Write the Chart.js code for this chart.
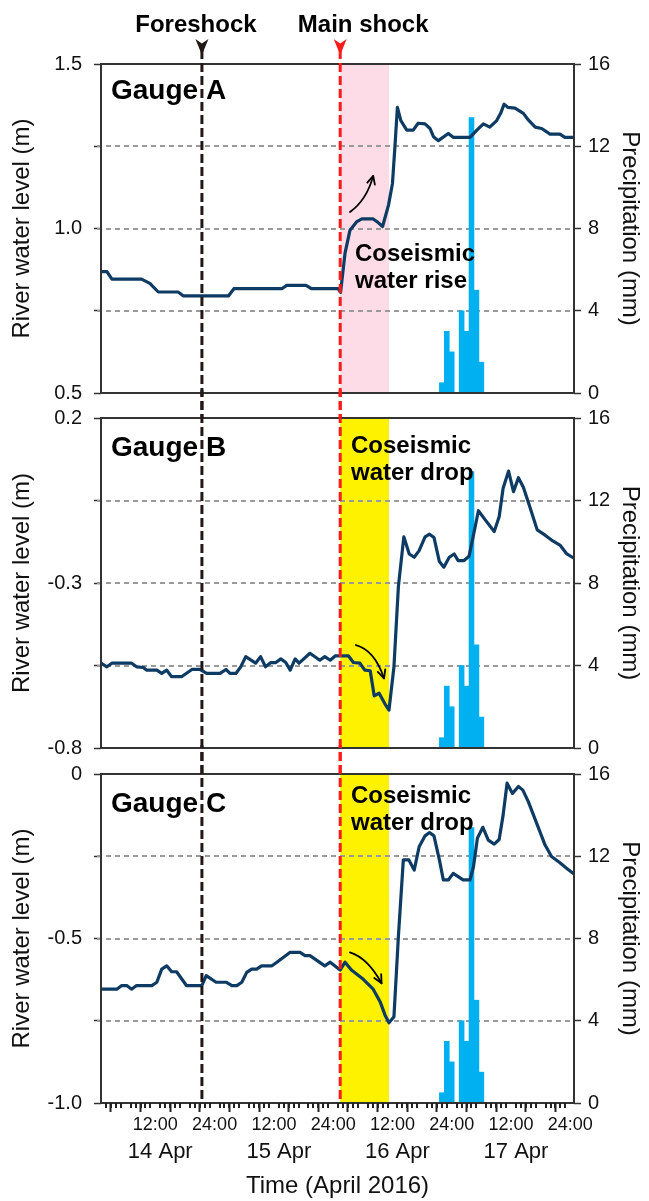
<!DOCTYPE html>
<html><head><meta charset="utf-8">
<script src="https://cdn.jsdelivr.net/npm/chart.js@4.4.1/dist/chart.umd.min.js"></script>
<style>
html,body{margin:0;padding:0;background:#fff;}
body{width:649px;height:1201px;position:relative;overflow:hidden;}
canvas{position:absolute;left:0;}
</style></head><body>
<canvas id="cA" width="649" height="419" style="top:0px"></canvas>
<canvas id="cB" width="649" height="384" style="top:390px"></canvas>
<canvas id="cC" width="649" height="456" style="top:745px"></canvas>
<script>
// ---- data (hours counted from 14 Apr 2016 00:00) ----
const hoursA = [1, 2.2, 3.2, 9.2, 10.9, 12.6, 16.6, 17.7, 26.8, 27.9, 37.6, 38.6, 42.5, 43.6, 49.0, 49.5, 50.4, 51.4, 52.8, 53.8, 56.1, 57.1, 58.0, 59.2, 60.0, 60.5, 61.0, 61.7, 62.9, 64.2, 65.2, 66.6, 67.6, 68.3, 69.3, 71.3, 72.3, 75.7, 77.1, 78.4, 79.7, 81.1, 81.9, 82.6, 83.4, 84.8, 86.5, 87.5, 88.9, 90.2, 91.9, 93.9, 94.9, 96.75];
const levelA = [0.869, 0.869, 0.846, 0.846, 0.833, 0.807, 0.807, 0.795, 0.795, 0.817, 0.817, 0.827, 0.827, 0.817, 0.817, 0.806, 0.925, 0.995, 1.021, 1.029, 1.029, 1.018, 1.006, 1.071, 1.137, 1.249, 1.368, 1.328, 1.299, 1.299, 1.320, 1.318, 1.304, 1.279, 1.267, 1.289, 1.277, 1.277, 1.299, 1.318, 1.308, 1.328, 1.350, 1.378, 1.368, 1.366, 1.350, 1.330, 1.308, 1.304, 1.287, 1.287, 1.277, 1.277];

const hoursB = [1, 2.2, 3.2, 7.2, 8.2, 9.6, 10.2, 12.3, 13.3, 14.3, 15.3, 17.3, 19.4, 21.0, 22.4, 25.1, 26.3, 27.1, 28.3, 29.3, 30.3, 32.3, 33.3, 34.3, 35.4, 36.4, 37.4, 38.4, 39.3, 40.3, 41.1, 43.3, 45.3, 46.3, 47.4, 48.4, 51.1, 52.1, 53.4, 54.4, 55.5, 56.3, 57.3, 58.5, 59.3, 60.3, 61.2, 62.3, 63.4, 64.4, 65.4, 66.6, 67.5, 68.4, 69.5, 70.4, 71.5, 72.5, 73.3, 74.5, 75.5, 76.4, 77.4, 78.9, 80.6, 81.6, 82.4, 83.5, 84.5, 85.5, 86.5, 87.8, 89.3, 90.9, 92.2, 93.9, 95.3, 96.75];
const levelB = [-0.543, -0.554, -0.543, -0.543, -0.554, -0.556, -0.564, -0.564, -0.574, -0.564, -0.584, -0.584, -0.562, -0.562, -0.574, -0.574, -0.562, -0.574, -0.574, -0.554, -0.523, -0.543, -0.523, -0.554, -0.541, -0.541, -0.530, -0.541, -0.564, -0.530, -0.543, -0.513, -0.534, -0.523, -0.534, -0.521, -0.521, -0.541, -0.543, -0.564, -0.566, -0.642, -0.634, -0.667, -0.685, -0.554, -0.311, -0.160, -0.212, -0.222, -0.202, -0.160, -0.152, -0.162, -0.235, -0.252, -0.222, -0.212, -0.232, -0.232, -0.219, -0.155, -0.081, -0.111, -0.144, -0.099, -0.013, 0.039, -0.023, 0.019, -0.010, -0.069, -0.139, -0.155, -0.170, -0.185, -0.212, -0.225];

const hoursC = [1, 4.2, 5.2, 6.2, 7.2, 8.2, 11.3, 12.3, 13.3, 14.3, 15.3, 16.3, 18.3, 21.4, 22.3, 24.3, 26.4, 27.5, 28.5, 29.5, 30.5, 31.5, 32.5, 33.5, 35.6, 36.6, 39.3, 41.3, 42.3, 43.3, 46.3, 47.4, 49.4, 50.4, 51.7, 54.1, 56.1, 57.5, 58.5, 59.3, 60.3, 61.2, 62.2, 63.3, 64.4, 65.4, 66.6, 67.5, 68.4, 69.5, 70.3, 71.3, 72.3, 74.3, 75.7, 76.4, 77.2, 78.3, 79.4, 80.6, 81.6, 82.4, 83.2, 84.3, 85.5, 86.4, 87.5, 89.2, 90.9, 92.2, 93.9, 95.3, 96.75];
const levelC = [-0.654, -0.654, -0.643, -0.643, -0.654, -0.643, -0.643, -0.633, -0.593, -0.583, -0.601, -0.601, -0.643, -0.643, -0.613, -0.633, -0.633, -0.643, -0.643, -0.633, -0.603, -0.593, -0.593, -0.583, -0.583, -0.572, -0.542, -0.542, -0.552, -0.552, -0.583, -0.572, -0.596, -0.572, -0.596, -0.624, -0.654, -0.692, -0.733, -0.756, -0.738, -0.494, -0.261, -0.261, -0.292, -0.221, -0.188, -0.178, -0.188, -0.261, -0.322, -0.322, -0.302, -0.322, -0.322, -0.282, -0.195, -0.162, -0.201, -0.213, -0.199, -0.125, -0.028, -0.059, -0.038, -0.049, -0.084, -0.150, -0.216, -0.251, -0.270, -0.287, -0.304];

const rainHours = [70, 71, 72, 73, 74, 75, 76, 77, 78];
const rainMm    = [0.5, 3.0, 2.0, 0, 4.0, 3.0, 13.4, 5.0, 1.5];

const yTicksA = [0.5, 0.75, 1.0, 1.25, 1.5];
const yLabelsA = ['0.5', '', '1.0', '', '1.5'];
const yTicksB = [-0.8, -0.55, -0.3, -0.05, 0.2];
const yLabelsB = ['-0.8', '', '-0.3', '', '0.2'];
const yTicksC = [-1.0, -0.75, -0.5, -0.25, 0];
const yLabelsC = ['-1.0', '', '-0.5', '', '0'];
const rainTicks = [0, 4, 8, 12, 16];
const xMajorHours = [6, 12, 18, 24, 30, 36, 42, 48, 54, 60, 66, 72, 78, 84, 90, 96];
const dayLabels = ['14 Apr', '15 Apr', '16 Apr', '17 Apr'];
const dayNoonHours = [12, 36, 60, 84];

const FORESHOCK_H = 21.43;   // 14 Apr 21:26
const MAINSHOCK_H = 49.42;   // 16 Apr 01:25
const BAND_END_H = 59.3;
const X_MIN = 1, X_MAX = 96.75;

// ---- style ----
const FONT = "'Liberation Sans', Arial, Helvetica, sans-serif";
const AXIS = '#333333';
const TXT = '#111111';
const LINE = '#0d3b63';
const RAIN = '#00b0f0';
Chart.defaults.font.family = FONT;
Chart.defaults.color = TXT;

function curvedArrow(ctx, xs, ys, p0, pc, p1) {
  const x0 = xs.getPixelForValue(p0[0]), y0 = ys.getPixelForValue(p0[1]);
  const xc = xs.getPixelForValue(pc[0]), yc = ys.getPixelForValue(pc[1]);
  const x1 = xs.getPixelForValue(p1[0]), y1 = ys.getPixelForValue(p1[1]);
  ctx.save();
  ctx.strokeStyle = '#000'; ctx.lineWidth = 1.8; ctx.lineCap = 'round'; ctx.lineJoin = 'round';
  ctx.beginPath(); ctx.moveTo(x0, y0); ctx.quadraticCurveTo(xc, yc, x1, y1); ctx.stroke();
  const ang = Math.atan2(y1 - yc, x1 - xc), L = 9, a = 0.45;
  ctx.beginPath();
  ctx.moveTo(x1 - L * Math.cos(ang - a), y1 - L * Math.sin(ang - a));
  ctx.lineTo(x1, y1);
  ctx.lineTo(x1 - L * Math.cos(ang + a), y1 - L * Math.sin(ang + a));
  ctx.stroke();
  ctx.restore();
}

function makePanel(cfg) {
  const canvas = document.getElementById(cfg.id);
  const panelPlugin = {
    id: 'panel' + cfg.id,
    beforeDatasetsDraw(chart) {
      const {ctx, chartArea: ca, scales} = chart;
      const xs = scales.x, ys = scales.y;
      ctx.save();
      const bx0 = xs.getPixelForValue(MAINSHOCK_H), bx1 = xs.getPixelForValue(BAND_END_H);
      ctx.fillStyle = cfg.band;
      ctx.fillRect(bx0, ca.top, bx1 - bx0, ca.bottom - ca.top);
      ctx.strokeStyle = '#9a9a9a'; ctx.lineWidth = 1.8; ctx.setLineDash([5, 4]);
      cfg.yTicks.slice(1, -1).forEach(v => {
        const y = Math.round(ys.getPixelForValue(v));
        ctx.beginPath(); ctx.moveTo(ca.left - 4, y); ctx.lineTo(ca.right, y); ctx.stroke();
      });
      ctx.restore();
    },
    afterDatasetsDraw(chart) {
      const {ctx, chartArea: ca, scales} = chart;
      const xs = scales.x, ys = scales.y;
      ctx.save();
      // frame
      ctx.strokeStyle = AXIS; ctx.lineWidth = 2; ctx.setLineDash([]);
      ctx.strokeRect(ca.left, ca.top, ca.right - ca.left, ca.bottom - ca.top);
      // event lines (continuous through all panels, absolute dash phase)
      const yStart = 50 - cfg.top;
      const yEnd = cfg.isBottom ? ca.bottom : chart.height + 2;
      [[FORESHOCK_H, '#231815'], [MAINSHOCK_H, '#ff1a1a']].forEach(([h, col]) => {
        const x = xs.getPixelForValue(h);
        ctx.strokeStyle = col; ctx.lineWidth = 3; ctx.setLineDash([9, 4]);
        ctx.beginPath(); ctx.moveTo(x, yStart); ctx.lineTo(x, yEnd); ctx.stroke();
      });
      ctx.setLineDash([]);
      // texts
      ctx.fillStyle = '#000';
      ctx.textBaseline = 'alphabetic'; ctx.textAlign = 'left';
      ctx.font = 'bold 28px ' + FONT;
      ctx.fillText(cfg.gauge, 111, ca.top + cfg.gaugeDy);
      ctx.font = 'bold 24px ' + FONT;
      ctx.fillText('Coseismic', cfg.txtX, ca.top + cfg.txtDy);
      ctx.fillText(cfg.txt2, cfg.txtX, ca.top + cfg.txtDy + 26.6);
      curvedArrow(ctx, xs, ys, cfg.arrow[0], cfg.arrow[1], cfg.arrow[2]);
      if (cfg.isTop) {
        ctx.font = 'bold 24px ' + FONT;
        ctx.textAlign = 'center';
        const xf = xs.getPixelForValue(FORESHOCK_H), xm = xs.getPixelForValue(MAINSHOCK_H);
        ctx.fillText('Foreshock', xf - 6, 32);
        ctx.fillText('Main shock', xm + 23, 32);
        [[xf, '#231815'], [xm, '#ff1a1a']].forEach(([x, col]) => {
          ctx.fillStyle = col;
          ctx.beginPath();
          ctx.moveTo(x, 55); ctx.lineTo(x - 6.5, 39); ctx.lineTo(x, 43.5); ctx.lineTo(x + 6.5, 39);
          ctx.closePath(); ctx.fill();
        });
      }
      if (cfg.isBottom) {
        ctx.fillStyle = '#222';
        for (let h = 2; h <= 96; h++) {
          if (h % 6 === 0) continue;
          const x = Math.round(xs.getPixelForValue(h));
          ctx.fillRect(x - 1, ca.bottom, 2, 5);
        }
        ctx.fillStyle = TXT; ctx.font = '22px ' + FONT;
        ctx.textAlign = 'center'; ctx.textBaseline = 'middle';
        dayLabels.forEach((d, i) => {
          ctx.fillText(d, xs.getPixelForValue(dayNoonHours[i] + 1), ca.bottom + 49);
        });
      }
      ctx.restore();
    }
  };

  const tickGrid = {drawOnChartArea: false, drawTicks: true, tickLength: 7, tickColor: AXIS, tickWidth: 1.5, color: 'rgba(0,0,0,0)'};
  return new Chart(canvas, {
    type: 'line',
    data: {
      datasets: [
        {type: 'line', yAxisID: 'y', order: 1,
         data: cfg.hours.map((h, i) => ({x: h, y: cfg.levels[i]})),
         borderColor: LINE, borderWidth: 3.2, pointRadius: 0, tension: 0,
         borderJoinStyle: 'round', borderCapStyle: 'round', fill: false},
        {type: 'bar', yAxisID: 'y2', order: 2,
         data: rainHours.map((h, i) => ({x: h, y: rainMm[i]})),
         backgroundColor: RAIN, borderWidth: 0, barPercentage: 1, categoryPercentage: 1, grouped: false}
      ]
    },
    options: {
      responsive: false, animation: false,
      layout: {padding: {top: cfg.padTop, bottom: cfg.padBottom, left: 0, right: 0}},
      plugins: {legend: {display: false}, tooltip: {enabled: false}},
      scales: {
        x: {
          type: 'linear', min: X_MIN, max: X_MAX, offset: false, display: cfg.isBottom,
          afterBuildTicks: s => { s.ticks = xMajorHours.map(v => ({value: v})); },
          afterFit: s => { if (cfg.isBottom) s.height = 98; },
          grid: {drawOnChartArea: false, drawTicks: true, tickLength: 9, tickColor: '#222', tickWidth: 2, color: 'rgba(0,0,0,0)'},
          border: {display: false},
          ticks: {autoSkip: false, maxRotation: 0, minRotation: 0, padding: 2, color: TXT,
                  font: {family: FONT, size: 18},
                  callback: v => (v % 24 === 0 ? '24:00' : (v % 12 === 0 ? '12:00' : ''))},
          title: {display: true, text: 'Time (April 2016)', color: TXT, font: {family: FONT, size: 24}, padding: {top: 0, bottom: 0}}
        },
        y: {
          type: 'linear', position: 'left', min: cfg.yTicks[0], max: cfg.yTicks[cfg.yTicks.length - 1],
          afterBuildTicks: s => { s.ticks = cfg.yTicks.map(v => ({value: v})); },
          afterFit: s => { s.width = 101; },
          grid: tickGrid, border: {display: false},
          ticks: {padding: 12, color: TXT, font: {family: FONT, size: 20},
                  callback: (v, i) => cfg.yLabels[i]},
          title: {display: true, text: 'River water level (m)', color: TXT, font: {family: FONT, size: 24}, padding: {top: 8, bottom: 0}}
        },
        y2: {
          type: 'linear', position: 'right', min: 0, max: 16,
          afterBuildTicks: s => { s.ticks = rainTicks.map(v => ({value: v})); },
          afterFit: s => { s.width = 75; },
          grid: tickGrid, border: {display: false},
          ticks: {padding: 7, color: TXT, font: {family: FONT, size: 20}, callback: v => String(v)},
          title: {display: true, text: 'Precipitation (mm)', color: TXT, font: {family: FONT, size: 24}, padding: {top: 5, bottom: 0}}
        }
      }
    },
    plugins: [panelPlugin]
  });
}

makePanel({id: 'cA', top: 0, padTop: 64, padBottom: 26, isTop: true, isBottom: false,
  hours: hoursA, levels: levelA, yTicks: yTicksA, yLabels: yLabelsA,
  band: '#fddbe7', gauge: 'Gauge A', gaugeDy: 35, txt2: 'water rise', txtX: 355, txtDy: 197,
  arrow: [[51.4, 1.050], [54.8, 1.087], [56.1, 1.160]]});
makePanel({id: 'cB', top: 390, padTop: 28, padBottom: 26, isTop: false, isBottom: false,
  hours: hoursB, levels: levelB, yTicks: yTicksB, yLabels: yLabelsB,
  band: '#fff200', gauge: 'Gauge B', gaugeDy: 38, txt2: 'water drop', txtX: 351, txtDy: 35,
  arrow: [[52.6, -0.488], [56.4, -0.503], [58.3, -0.589]]});
makePanel({id: 'cC', top: 745, padTop: 29, padBottom: 0, isTop: false, isBottom: true,
  hours: hoursC, levels: levelC, yTicks: yTicksC, yLabels: yLabelsC,
  band: '#fff200', gauge: 'Gauge C', gaugeDy: 38, txt2: 'water drop', txtX: 351, txtDy: 29,
  arrow: [[51.4, -0.542], [55.0, -0.559], [57.8, -0.636]]});
</script>
</body></html>
